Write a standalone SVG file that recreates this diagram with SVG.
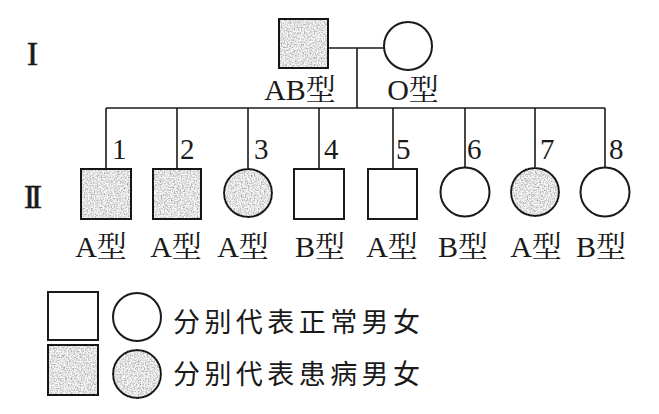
<svg xmlns="http://www.w3.org/2000/svg" width="659" height="414" viewBox="0 0 659 414">
<style>
.bg{fill:#ffffff}
.n{fill:#ffffff;stroke:#1a1a1a;stroke-width:2}
.a{fill:#ffffff;stroke:#1a1a1a;stroke-width:2;filter:url(#tex)}
.ln{stroke:#1a1a1a;stroke-width:1.6;fill:none}
.t{font-family:"Liberation Serif","Noto Serif CJK SC","Noto Sans CJK SC",serif;fill:#1a1a1a}
.lab{font-size:30px;text-anchor:middle}
.num{font-size:29px}
.gen{font-size:33px;stroke:#1a1a1a;stroke-width:0.6}
.leg{font-family:"Noto Sans CJK SC",sans-serif;font-size:27px;fill:#1a1a1a}
</style>
<defs>
<filter id="tex" x="-5%" y="-5%" width="110%" height="110%">
<feTurbulence type="fractalNoise" baseFrequency="0.7" numOctaves="2" seed="4" result="n"/>
<feColorMatrix in="n" type="matrix" values="1.3 0 0 0 0.11  1.3 0 0 0 0.11  1.3 0 0 0 0.11  0 0 0 0 1" result="g"/>
<feComposite in="g" in2="SourceAlpha" operator="in" result="gc"/>
<feBlend in="SourceGraphic" in2="gc" mode="multiply"/>
</filter>
</defs>
<rect class="bg" x="0" y="0" width="659" height="414"/>
<g id="generation-labels" class="t gen">
<text x="27" y="65">I</text>
<text x="24" y="208" letter-spacing="-4">II</text>
</g>
<g id="connectors">
<line class="ln" x1="328" y1="48" x2="384" y2="48"/>
<line class="ln" x1="357" y1="48" x2="357" y2="108"/>
<line class="ln" x1="106" y1="108" x2="605" y2="108"/>
<line class="ln" x1="106" y1="108" x2="106" y2="169"/>
<line class="ln" x1="177" y1="108" x2="177" y2="169"/>
<line class="ln" x1="248" y1="108" x2="248" y2="169"/>
<line class="ln" x1="319" y1="108" x2="319" y2="169"/>
<line class="ln" x1="393" y1="108" x2="393" y2="169"/>
<line class="ln" x1="465" y1="108" x2="465" y2="168"/>
<line class="ln" x1="535" y1="108" x2="535" y2="169"/>
<line class="ln" x1="605" y1="108" x2="605" y2="168"/>
</g>
<g id="I-1">
<rect class="a" x="279" y="19" width="49" height="49"/>
<text class="t lab" x="300" y="100">AB型</text>
</g>
<g id="I-2">
<circle class="n" cx="408" cy="46" r="24"/>
<text class="t lab" x="413" y="100">O型</text>
</g>
<g id="II-1">
<rect class="a" x="81" y="169" width="50" height="50"/>
<text class="t num" x="112" y="159">1</text>
<text class="t lab" x="101" y="257">A型</text>
</g>
<g id="II-2">
<rect class="a" x="153" y="169" width="48" height="50"/>
<text class="t num" x="180" y="159">2</text>
<text class="t lab" x="176" y="257">A型</text>
</g>
<g id="II-3">
<circle class="a" cx="248" cy="193" r="24"/>
<text class="t num" x="254" y="159">3</text>
<text class="t lab" x="243" y="257">A型</text>
</g>
<g id="II-4">
<rect class="n" x="294" y="169" width="50" height="50"/>
<text class="t num" x="324" y="159">4</text>
<text class="t lab" x="320" y="257">B型</text>
</g>
<g id="II-5">
<rect class="n" x="368" y="169" width="49" height="50"/>
<text class="t num" x="396" y="159">5</text>
<text class="t lab" x="392" y="257">A型</text>
</g>
<g id="II-6">
<circle class="n" cx="465" cy="192" r="24.5"/>
<text class="t num" x="467" y="159">6</text>
<text class="t lab" x="463" y="257">B型</text>
</g>
<g id="II-7">
<circle class="a" cx="535" cy="192" r="24"/>
<text class="t num" x="540" y="159">7</text>
<text class="t lab" x="536" y="257">A型</text>
</g>
<g id="II-8">
<circle class="n" cx="605" cy="192" r="24.5"/>
<text class="t num" x="609" y="159">8</text>
<text class="t lab" x="601" y="257">B型</text>
</g>
<g id="legend-normal">
<rect class="n" x="48" y="292" width="50" height="48"/>
<circle class="n" cx="137" cy="317" r="24"/>
<text class="leg" x="173" y="332" textLength="247" lengthAdjust="spacing">分别代表正常男女</text>
</g>
<g id="legend-affected">
<rect class="a" x="48" y="345" width="50" height="50"/>
<circle class="a" cx="137" cy="374" r="24"/>
<text class="leg" x="173" y="384" textLength="247" lengthAdjust="spacing">分别代表患病男女</text>
</g>
</svg>
